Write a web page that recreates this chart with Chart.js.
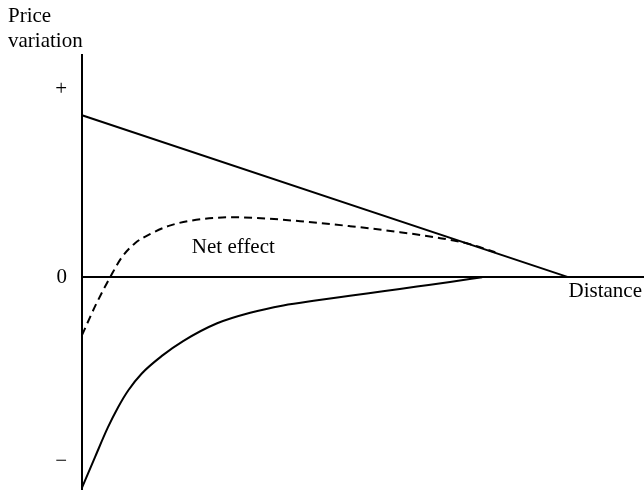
<!DOCTYPE html>
<html><head><meta charset="utf-8">
<script src="https://cdn.jsdelivr.net/npm/chart.js@4/dist/chart.umd.min.js"></script>
<style>html,body{margin:0;padding:0;background:#fff}canvas{display:block}</style>
</head><body>
<canvas id="c" width="644" height="490"></canvas>
<script>
// ---- data (arbitrary units: distance 0..~11.6, price variation) ----
const yTickValues = [-11.4, 0, 11.6];
const yTickLabels = ['\u2212', '0', '+'];
const titleLines = ['Price', 'variation'];
const xAxisLabel = 'Distance';
const netLabel = 'Net effect';
const netLabelAt = [2.26, 1.48];

const upperX = [0, 10];
const upperY = [10, 0];

const netX = [0, 0.29, 0.58, 0.82, 1.09, 1.44, 1.77, 2.18, 3.11, 4.49, 5.51, 6.54, 7.37, 7.98, 8.5];
const netY = [-3.58, -1.67, 0, 1.23, 2.10, 2.72, 3.15, 3.46, 3.70, 3.46, 3.15, 2.78, 2.41, 2.04, 1.54];

const lowerX = [0, 0.27, 0.53, 0.74, 0.95, 1.23, 1.65, 2.08, 2.78, 3.46, 4.14, 4.84, 5.51, 6.19, 6.89, 7.57, 8.23];
const lowerY = [-13.0, -11.1, -9.3, -8.05, -7.0, -5.95, -4.85, -3.95, -2.85, -2.2, -1.75, -1.43, -1.15, -0.87, -0.58, -0.3, 0];

const X_MIN = 0, X_MAX = 11.56, Y_MIN = -13.15, Y_MAX = 13.7;

const pts = (xs, ys) => xs.map((x, i) => ({x, y: ys[i]}));
const SERIF = '"Liberation Serif", "Times New Roman", serif';

const textPlugin = {
  id: 'texts',
  afterDatasetsDraw(chart) {
    const {ctx, scales: {x, y}} = chart;
    ctx.save();
    ctx.fillStyle = '#000';
    ctx.font = '21px ' + SERIF;
    ctx.textBaseline = 'alphabetic';
    ctx.textAlign = 'left';
    ctx.fillText(netLabel, x.getPixelForValue(netLabelAt[0]), y.getPixelForValue(netLabelAt[1]));
    ctx.textAlign = 'right';
    ctx.fillText(xAxisLabel, x.getPixelForValue(X_MAX) - 2, y.getPixelForValue(0) + 20);
    ctx.restore();
  }
};

new Chart(document.getElementById('c'), {
  type: 'line',
  data: {
    datasets: [
      { label: 'upper', data: pts(upperX, upperY), borderColor: '#000', borderWidth: 2, pointRadius: 0, tension: 0, clip: false },
      { label: 'net', data: pts(netX, netY), borderColor: '#000', borderWidth: 2, borderDash: [8, 5], pointRadius: 0, cubicInterpolationMode: 'monotone', clip: false },
      { label: 'lower', data: pts(lowerX, lowerY), borderColor: '#000', borderWidth: 2, pointRadius: 0, cubicInterpolationMode: 'monotone', clip: false }
    ]
  },
  options: {
    responsive: false,
    animation: false,
    devicePixelRatio: 1,
    layout: { padding: { left: 8, right: 0, top: 0, bottom: 0 } },
    plugins: {
      legend: { display: false },
      tooltip: { enabled: false },
      title: {
        display: true,
        text: titleLines,
        align: 'start',
        color: '#000',
        font: { family: SERIF, size: 21, weight: 'normal', lineHeight: 1.2 },
        padding: { top: 4, bottom: 1 }
      }
    },
    scales: {
      x: { type: 'linear', min: X_MIN, max: X_MAX, display: false },
      y: {
        type: 'linear', min: Y_MIN, max: Y_MAX,
        afterBuildTicks: (s) => { s.ticks = yTickValues.map(v => ({value: v})); },
        afterFit: (s) => { s.width = 74; s.paddingTop = 0; s.paddingBottom = 0; },
        ticks: {
          color: '#000',
          padding: 15,
          font: { family: SERIF, size: 21 },
          callback: (v) => { const i = yTickValues.indexOf(v); return i >= 0 ? yTickLabels[i] : ''; }
        },
        grid: {
          drawTicks: false,
          color: (c) => (c.tick && c.tick.value === 0 ? '#000' : 'rgba(0,0,0,0)'),
          lineWidth: 2
        },
        border: { display: true, color: '#000', width: 2 }
      }
    }
  },
  plugins: [textPlugin]
});
</script>
</body></html>
